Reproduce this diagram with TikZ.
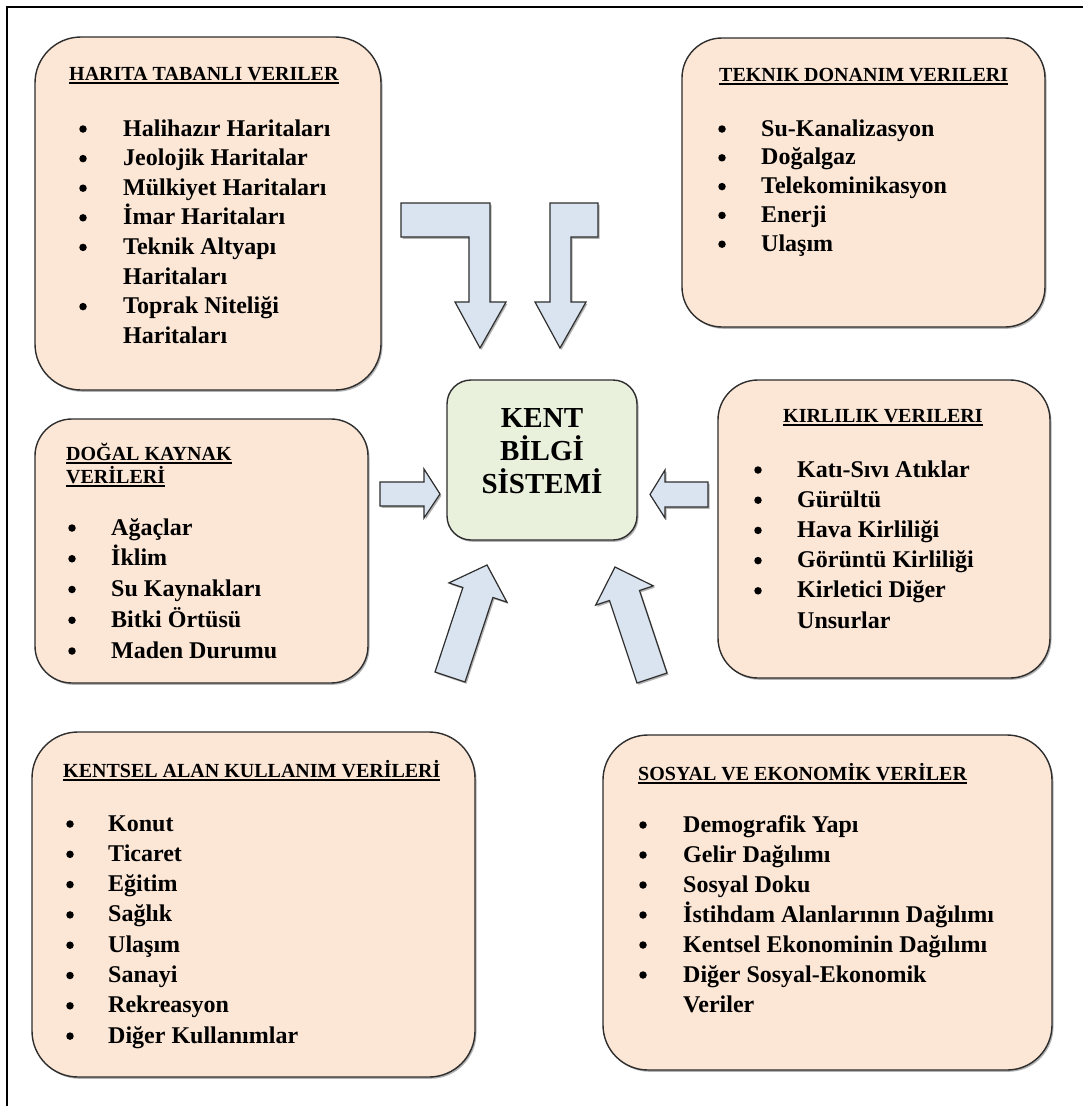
\documentclass[tikz,border=0pt]{standalone}
\usepackage{fontspec}
\setmainfont{Liberation Serif}
\usetikzlibrary{shadows}
\definecolor{boxfill}{HTML}{FCE6D6}
\definecolor{centerfill}{HTML}{E9F0DC}
\definecolor{arrowfill}{HTML}{DAE4F0}
\definecolor{edge}{HTML}{2E2E2E}
\newcommand\hdul[1]{\setbox0\hbox{#1}\rlap{\rule[-3.5pt]{\wd0}{1.6pt}}\box0}
\newcommand\itemlist[6]{%
  \foreach \b/\t [count=\i from 0] in {#6} {%
    \node[itemtext] (#1t\i) at (#3,{#4+\i*#5}) {\t};
    \ifnum\b=1 \node[bul] (#1b\i) at (#2,{#4+\i*#5-7}) {};\fi
  }%
}
\tikzset{
  x=1pt, y=-1pt,
  shade/.style={drop shadow={shadow xshift=1.5pt, shadow yshift=-1.8pt, fill=black!55, opacity=.55}},
  databox/.style={draw=edge, line width=1.4pt, fill=boxfill, shade, inner sep=0pt},
  centerbox/.style={draw=edge, line width=1.4pt, fill=centerfill, shade, inner sep=0pt,
    minimum width=190pt, minimum height=160pt, rounded corners=24pt},
  blockarrow/.style={draw=edge, line width=1.2pt, fill=arrowfill, line join=miter, shade},
  heading/.style={font=\fontsize{20}{23}\selectfont\bfseries, inner sep=0pt, anchor=base west},
  itemtext/.style={font=\fontsize{24}{29}\selectfont\bfseries, inner sep=0pt, anchor=base west},
  bul/.style={circle, fill=black, inner sep=0pt, minimum size=7.5pt},
  centertext/.style={font=\fontsize{29}{33}\selectfont\bfseries, inner sep=0pt, anchor=base},
}
\begin{document}
\begin{tikzpicture}
\useasboundingbox (0,0) rectangle (1083,1106);
\fill[white] (0,0) rectangle (1083,1106);
\draw[line width=1.5pt, black] (7,7) rectangle (1100,1120);

% boxes
\node[databox, minimum width=346pt, minimum height=353pt, rounded corners=46pt] (harita) at (208,213.5) {};
\node[databox, minimum width=363pt, minimum height=289pt, rounded corners=40pt] (teknik) at (863.5,182.5) {};
\node[databox, minimum width=333pt, minimum height=264pt, rounded corners=37pt] (dogal) at (201.5,551) {};
\node[databox, minimum width=332pt, minimum height=298pt, rounded corners=40pt] (kirlilik) at (884,529) {};
\node[databox, minimum width=443pt, minimum height=345pt, rounded corners=46pt] (kentsel) at (253.5,904.5) {};
\node[databox, minimum width=449pt, minimum height=335pt, rounded corners=45pt] (sosyal) at (827.5,902.5) {};
\node[centerbox] (kbs) at (542,460) {};

% center text
\node[centertext] (c1) at (542,427) {KENT};
\node[centertext] (c2) at (542,460) {BİLGİ};
\node[centertext] (c3) at (542,493) {SİSTEMİ};

% block arrows
\draw[blockarrow] (401,203) -- (490,203) -- (490,302) -- (506,302) -- (480,348) -- (455,302) -- (469,302) -- (469,237) -- (401,237) -- cycle;
\draw[blockarrow] (598,203) -- (550,203) -- (550,302) -- (535,302) -- (560,348) -- (586,302) -- (571,302) -- (571,237) -- (598,237) -- cycle;
\draw[blockarrow] (380,482) -- (424,482) -- (424,469) -- (440,494) -- (424,518) -- (424,506) -- (380,506) -- cycle;
\draw[blockarrow] (708,482) -- (665,482) -- (665,470) -- (650,494.5) -- (665,518) -- (665,507) -- (708,507) -- cycle;
\draw[blockarrow] (435,672) -- (462.9,587.5) -- (448.9,582.9) -- (487,565) -- (506.9,602.1) -- (492.9,597.5) -- (465,682) -- cycle;
\draw[blockarrow] (637,683) -- (609.5,600.5) -- (595.7,605.1) -- (615,567) -- (653.3,585.9) -- (639.5,590.5) -- (667,673) -- cycle;

% headings
\node[heading] (hh) at (69,80) {\hdul{HARITA TABANLI VERILER}};
\node[heading] (th) at (719,81) {\hdul{TEKNIK DONANIM VERILERI}};
\node[heading] (dh1) at (66,460) {\hdul{DOĞAL KAYNAK}};
\node[heading] (dh2) at (66,483) {\hdul{VERİLERİ}};
\node[heading] (kh) at (783,422) {\hdul{KIRLILIK VERILERI}};
\node[heading] (keh) at (63,777) {\hdul{KENTSEL ALAN KULLANIM VERİLERİ}};
\node[heading] (sh) at (638,780) {\hdul{SOSYAL VE EKONOMİK VERİLER}};

% lists
\itemlist{h}{83}{123}{136}{29.6}{1/Halihazır Haritaları, 1/Jeolojik Haritalar, 1/Mülkiyet Haritaları, 1/İmar Haritaları, 1/Teknik Altyapı, 0/Haritaları, 1/Toprak Niteliği, 0/Haritaları}
\itemlist{t}{722}{761}{136}{28.8}{1/Su-Kanalizasyon, 1/Doğalgaz, 1/Telekominikasyon, 1/Enerji, 1/Ulaşım}
\itemlist{d}{72}{111}{535}{30.75}{1/Ağaçlar, 1/İklim, 1/Su Kaynakları, 1/Bitki Örtüsü, 1/Maden Durumu}
\itemlist{k}{758}{797}{477}{30.2}{1/Katı-Sıvı Atıklar, 1/Gürültü, 1/Hava Kirliliği, 1/Görüntü Kirliliği, 1/Kirletici Diğer, 0/Unsurlar}
\itemlist{e}{70}{108}{831}{30.3}{1/Konut, 1/Ticaret, 1/Eğitim, 1/Sağlık, 1/Ulaşım, 1/Sanayi, 1/Rekreasyon, 1/Diğer Kullanımlar}
\itemlist{s}{643}{683}{832}{30}{1/Demografik Yapı, 1/Gelir Dağılımı, 1/Sosyal Doku, 1/İstihdam Alanlarının Dağılımı, 1/Kentsel Ekonominin Dağılımı, 1/Diğer Sosyal-Ekonomik, 0/Veriler}
\end{tikzpicture}
\end{document}
